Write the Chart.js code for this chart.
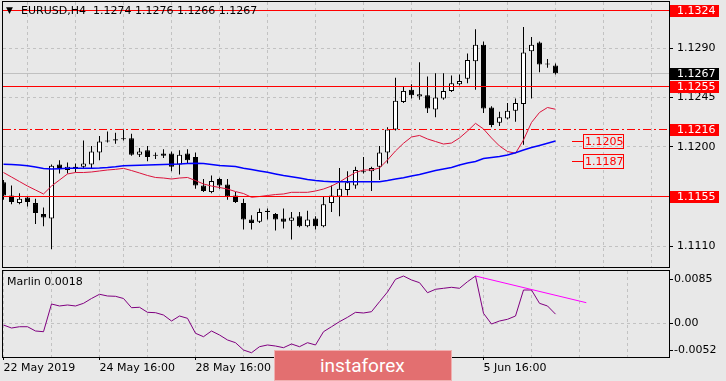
<!DOCTYPE html>
<html lang="en">
<head>
<meta charset="UTF-8" />
<title>EURUSD H4</title>
<script src="https://cdn.jsdelivr.net/npm/chart.js@4.4.1/dist/chart.umd.min.js"></script>
<style>
  html, body { margin: 0; padding: 0; background: #e8e8e8; }
  body { width: 726px; height: 381px; position: relative; overflow: hidden; }
  #mainChart { position: absolute; left: 0; top: 0; }
  #marlinChart { position: absolute; left: 0; top: 268px; }
  #wm {
    position: absolute; left: 274px; top: 350px; width: 178px; height: 31px;
    box-sizing: border-box; border: 1px solid #f0b0b0; background: #e36f70;
    color: #fff; font: 19px Roboto, sans-serif; line-height: 29px; padding-left: 45px;
  }
</style>
</head>
<body>
<canvas id="mainChart" width="726" height="268"></canvas>
<canvas id="marlinChart" width="726" height="113"></canvas>
<div id="wm">instaforex</div>

<script>
// H4 bars, oldest first
const opens = [1.1168,1.1156,1.1149,1.1154,1.1149,1.1139,1.1135,1.1184,1.1179,1.1182,
  1.1182,1.1184,1.1195,1.1206,1.1207,1.1208,1.1208,1.1193,1.1197,1.1193,
  1.1194,1.1194,1.1184,1.1194,1.1191,1.1165,1.1159,1.1171,1.1166,1.1156,
  1.1149,1.1134,1.1132,1.1142,1.1139,1.1135,1.1133,1.1137,1.1128,1.1135,
  1.1128,1.1149,1.1155,1.1161,1.1165,1.1178,1.1178,1.1182,1.1195,1.1216,
  1.1241,1.1252,1.1246,1.1247,1.1234,1.1244,1.1251,1.1257,1.1262,1.1278,
  1.1293,1.1236,1.1222,1.1226,1.1233,1.1239,1.1287,1.1295,1.1276,1.1274];
const highs = [1.1170,1.1165,1.1158,1.1155,1.1153,1.1145,1.1184,1.1188,1.1186,1.1185,
  1.1206,1.1201,1.1210,1.1214,1.1213,1.1216,1.1212,1.1199,1.1201,1.1195,
  1.1198,1.1196,1.1197,1.1198,1.1195,1.1171,1.1174,1.1172,1.1171,1.1159,
  1.1153,1.1138,1.1144,1.1144,1.1140,1.1144,1.1141,1.1141,1.1142,1.1137,
  1.1155,1.1165,1.1181,1.1178,1.1182,1.1191,1.1182,1.1201,1.1218,1.1263,
  1.1255,1.1257,1.1277,1.1264,1.1267,1.1267,1.1265,1.1266,1.1285,1.1307,
  1.1296,1.1237,1.1232,1.1240,1.1244,1.1309,1.1300,1.1296,1.1280,1.1276];
const lows = [1.1152,1.1148,1.1148,1.1146,1.1130,1.1128,1.1107,1.1176,1.1176,1.1177,
  1.1181,1.1180,1.1188,1.1204,1.1203,1.1206,1.1192,1.1191,1.1187,1.1189,
  1.1190,1.1178,1.1175,1.1185,1.1162,1.1159,1.1158,1.1162,1.1152,1.1149,
  1.1125,1.1125,1.1131,1.1134,1.1124,1.1126,1.1116,1.1127,1.1127,1.1125,
  1.1127,1.1141,1.1137,1.1156,1.1162,1.1176,1.1160,1.1170,1.1185,1.1215,
  1.1240,1.1244,1.1243,1.1231,1.1227,1.1243,1.1250,1.1256,1.1258,1.1252,
  1.1231,1.1218,1.1219,1.1225,1.1223,1.1202,1.1244,1.1268,1.1272,1.1266];
const closes = [1.1156,1.1150,1.1153,1.1150,1.1140,1.1136,1.1183,1.1181,1.1182,1.1181,
  1.1185,1.1196,1.1205,1.1205,1.1206,1.1207,1.1193,1.1196,1.1191,1.1192,
  1.1192,1.1182,1.1193,1.1188,1.1165,1.1160,1.1169,1.1165,1.1155,1.1150,
  1.1134,1.1131,1.1141,1.1141,1.1134,1.1132,1.1136,1.1128,1.1134,1.1128,
  1.1148,1.1156,1.1162,1.1168,1.1179,1.1177,1.1181,1.1195,1.1216,1.1242,
  1.1251,1.1247,1.1248,1.1235,1.1245,1.1251,1.1258,1.1260,1.1279,1.1293,
  1.1235,1.1220,1.1227,1.1233,1.1240,1.1286,1.1293,1.1275,1.1275,1.1267];

// moving averages (fast = crimson, slow = blue)
const maFast = [1.11768,1.11727,1.11686,1.11645,1.11609,1.11573,1.11645,1.11700,1.11755,1.11768,
  1.11768,1.11773,1.11782,1.11791,1.11797,1.11806,1.11786,1.11764,1.11741,1.11723,
  1.11718,1.11709,1.11718,1.11723,1.11695,1.11664,1.11645,1.11632,1.11618,1.11595,
  1.11577,1.11543,1.11550,1.11559,1.11568,1.11573,1.11588,1.11588,1.11588,1.11600,
  1.11618,1.11645,1.11682,1.11727,1.11768,1.11791,1.11791,1.11809,1.11882,1.11964,
  1.12034,1.12091,1.12105,1.12073,1.12050,1.12027,1.12036,1.12082,1.12145,1.12215,
  1.12164,1.12082,1.12009,1.11959,1.11943,1.12064,1.12223,1.12314,1.12359,1.12343];
const maSlow = [1.11843,1.11841,1.11836,1.11830,1.11818,1.11805,1.11800,1.11803,1.11806,1.11806,
  1.11806,1.11806,1.11809,1.11814,1.11821,1.11830,1.11832,1.11834,1.11836,1.11838,
  1.11841,1.11843,1.11845,1.11850,1.11852,1.11850,1.11841,1.11832,1.11827,1.11823,
  1.11806,1.11795,1.11782,1.11770,1.11755,1.11741,1.11730,1.11718,1.11705,1.11695,
  1.11688,1.11685,1.11685,1.11685,1.11685,1.11685,1.11685,1.11685,1.11695,1.11709,
  1.11721,1.11736,1.11750,1.11768,1.11786,1.11800,1.11814,1.11836,1.11855,1.11868,
  1.11895,1.11905,1.11914,1.11927,1.11948,1.11973,1.11995,1.12014,1.12034,1.12055];

// Marlin oscillator
const marlin = [-0.00029,-0.00087,-0.00062,-0.00062,-0.00144,-0.00158,0.00375,0.00337,0.00356,0.00337,
  0.00388,0.00481,0.00562,0.00529,0.00523,0.00481,0.00304,0.00312,0.00215,0.00208,
  0.00163,0.00048,0.00144,0.00100,-0.00188,-0.00254,-0.00144,-0.00221,-0.00317,-0.00369,
  -0.00510,-0.00562,-0.00446,-0.00413,-0.00433,-0.00465,-0.00394,-0.00446,-0.00369,-0.00413,
  -0.00158,-0.00062,0.00035,0.00119,0.00215,0.00202,0.00227,0.00419,0.00606,0.00850,
  0.00913,0.00837,0.00785,0.00592,0.00658,0.00677,0.00696,0.00677,0.00804,0.00913,
  0.00196,-0.00010,0.00048,0.00081,0.00144,0.00644,0.00644,0.00388,0.00337,0.00180];
const trendX = [59, 72.85];
const trendY = [0.00913, 0.0040];

// axis stuff
const labelBars = [0, 12, 24, 36, 48, 60];
const labelTexts = ["22 May 2019", "24 May 16:00", "28 May 16:00", "30 May 16:00", "3 Jun 16:00", "5 Jun 16:00"];
const gridPrices = [1.1110, 1.1155, 1.1200, 1.1245, 1.1290];
const marlinTicks = [0.0085, 0, -0.0052];
const redLevels = [1.1324, 1.1255, 1.1155];
const dashLevels = [1.1216];
const boxLevels = [1.1324, 1.1255, 1.1216, 1.1155];
const bidPrice = 1.1267;
const noteLevels = [1.1205, 1.1187];
const noteBar = 71;

const header = "EURUSD,H4  1.1274 1.1276 1.1266 1.1267";
const marlinTitle = "Marlin 0.0018";

const BG = "#e8e8e8";
const GRID = "#c2c2c2";
const FONT = "'DejaVu Sans', sans-serif";

Chart.defaults.font.family = FONT;
Chart.defaults.font.size = 11;
Chart.defaults.color = "#000";
Chart.defaults.animation = false;

const X_MIN = -0.0625, X_MAX = 83.1875; // 8px per bar
const gridBars = [];
for (let b = 0; b <= 78; b += 6) gridBars.push(b);

const idx = opens.map((_, i) => i);
const wickData = idx.map(i => ({ x: i, y: [lows[i], highs[i]] }));
const bodyData = idx.map(i => ({ x: i, y: [opens[i], closes[i]] }));
const bodyFill = idx.map(i => (closes[i] >= opens[i] ? "#ffffff" : "#000000"));

const rowOf = (scale, v) => Math.floor(scale.getPixelForValue(v));

// no auto padding from labels, keep plot area where it should be
const noPad = s => { s.paddingTop = 0; s.paddingBottom = 0; s.paddingLeft = 0; s.paddingRight = 0; };

const framePlugin = {
  id: "frame",
  beforeDraw(chart) {
    const ctx = chart.ctx;
    ctx.save();
    ctx.fillStyle = BG;
    ctx.fillRect(0, 0, chart.width, chart.height);
    ctx.restore();
  },
  afterDraw(chart) {
    const a = chart.chartArea, ctx = chart.ctx;
    ctx.save();
    ctx.fillStyle = "#000";
    ctx.fillRect(a.left - 1, a.top - 1, a.right - a.left + 2, 1);
    ctx.fillRect(a.left - 1, a.bottom, a.right - a.left + 2, 1);
    ctx.fillRect(a.left - 1, a.top - 1, 1, a.bottom - a.top + 2);
    ctx.fillRect(a.right, a.top - 1, 1, a.bottom - a.top + 2);
    ctx.restore();
  }
};

const levelsPlugin = {
  id: "levels",
  beforeDatasetsDraw(chart) {
    const a = chart.chartArea, ctx = chart.ctx, y = chart.scales.y;
    ctx.save();
    ctx.fillStyle = "#c0c0c0";
    ctx.fillRect(a.left, rowOf(y, bidPrice), a.right - a.left, 1);
    ctx.restore();
  },
  afterDatasetsDraw(chart) {
    const a = chart.chartArea, ctx = chart.ctx, y = chart.scales.y, x = chart.scales.x;
    ctx.save();
    ctx.fillStyle = "#ff0000";
    redLevels.forEach(v => ctx.fillRect(a.left, rowOf(y, v), a.right - a.left, 1));
    // dash-dot pattern 8-3-2-3
    dashLevels.forEach(v => {
      const py = rowOf(y, v);
      for (let px = a.left; px < a.right; px += 16) {
        ctx.fillRect(px, py, Math.min(8, a.right - px), 1);
        if (px + 11 < a.right) ctx.fillRect(px + 11, py, 2, 1);
      }
    });

    // price notes next to the MA ends
    const nx = Math.round(x.getPixelForValue(noteBar));
    ctx.font = "11px " + FONT;
    ctx.textBaseline = "middle";
    ctx.strokeStyle = "#ff0000";
    ctx.lineWidth = 1;
    noteLevels.forEach(v => {
      const py = rowOf(y, v);
      ctx.fillRect(nx, py, 11, 1);
      ctx.strokeRect(nx + 11.5, py - 6.5, 40, 14);
      ctx.fillText(v.toFixed(4), nx + 13, py + 1);
    });
    ctx.restore();
  },
  afterDraw(chart) {
    const a = chart.chartArea, ctx = chart.ctx, y = chart.scales.y;
    ctx.save();
    ctx.font = "11px " + FONT;
    ctx.textBaseline = "middle";
    const box = (v, color) => {
      const py = rowOf(y, v);
      ctx.fillStyle = color;
      ctx.fillRect(a.right + 1, py - 5, 49, 12);
      ctx.fillStyle = "#ffffff";
      ctx.fillText(v.toFixed(4), a.right + 8, py + 1);
    };
    boxLevels.forEach(v => box(v, "#ff0000"));
    box(bidPrice, "#000000");

    ctx.fillStyle = "#000";
    ctx.font = "9px " + FONT;
    ctx.fillText("\u25BC", a.left + 3, 11);
    ctx.font = "11px " + FONT;
    ctx.fillText(header, a.left + 18, 11);
    ctx.restore();
  }
};

const marlinPlugin = {
  id: "marlinTitle",
  afterDraw(chart) {
    const a = chart.chartArea, ctx = chart.ctx;
    ctx.save();
    ctx.font = "11px " + FONT;
    ctx.textBaseline = "middle";
    ctx.fillStyle = "#000";
    ctx.fillText(marlinTitle, a.left + 4, a.top + 11);
    ctx.restore();
  }
};

new Chart(document.getElementById("mainChart"), {
  type: "bar",
  data: {
    datasets: [
      { type: "line", data: idx.map(i => ({ x: i, y: maSlow[i] })), borderColor: "#0000ff",
        borderWidth: 1.5, pointRadius: 0, tension: 0, fill: false, order: 0 },
      { type: "line", data: idx.map(i => ({ x: i, y: maFast[i] })), borderColor: "#dc143c",
        borderWidth: 1, pointRadius: 0, tension: 0, fill: false, order: 0 },
      { data: bodyData, backgroundColor: bodyFill, borderColor: "#000", borderWidth: 1,
        borderSkipped: false, barThickness: 5, minBarLength: 1, inflateAmount: 0,
        grouped: false, order: 1 },
      { data: wickData, backgroundColor: "#000", borderWidth: 0, barThickness: 1,
        inflateAmount: 0, grouped: false, order: 2 }
    ]
  },
  options: {
    responsive: false,
    devicePixelRatio: 1,
    layout: { padding: { left: 3, top: 2, right: 0, bottom: 1 }, autoPadding: false },
    plugins: { legend: { display: false }, tooltip: { enabled: false } },
    scales: {
      x: {
        type: "linear", min: X_MIN, max: X_MAX, offset: false,
        afterBuildTicks: s => { s.ticks = gridBars.map(v => ({ value: v })); },
        afterFit: s => { s.height = 0; noPad(s); },
        ticks: { display: false },
        grid: { color: GRID, drawTicks: false },
        border: { display: false, dash: [3, 3] }
      },
      y: {
        position: "right",
        min: 1.1290 + 46 / 11000 - 265 / 11000,
        max: 1.1290 + 46 / 11000,
        afterBuildTicks: s => { s.ticks = gridPrices.map(v => ({ value: v })); },
        afterFit: s => { s.width = 57; noPad(s); },
        ticks: { callback: v => v.toFixed(4), padding: 4, autoSkip: false },
        grid: { color: GRID, tickColor: "#000", tickLength: 4, tickBorderDash: [] },
        border: { display: false, dash: [3, 3] }
      }
    }
  },
  plugins: [framePlugin, levelsPlugin]
});

new Chart(document.getElementById("marlinChart"), {
  type: "line",
  data: {
    datasets: [
      { data: trendX.map((v, i) => ({ x: v, y: trendY[i] })), borderColor: "#ff00ff",
        borderWidth: 1, pointRadius: 0, tension: 0 },
      { data: idx.map(i => ({ x: i, y: marlin[i] })), borderColor: "#800080",
        borderWidth: 1, pointRadius: 0, tension: 0 }
    ]
  },
  options: {
    responsive: false,
    devicePixelRatio: 1,
    layout: { padding: { left: 3, top: 3, right: 0, bottom: 0 }, autoPadding: false },
    plugins: { legend: { display: false }, tooltip: { enabled: false } },
    scales: {
      x: {
        type: "linear", min: X_MIN, max: X_MAX, offset: false,
        afterBuildTicks: s => { s.ticks = gridBars.map(v => ({ value: v })); },
        afterFit: s => { s.height = 24; noPad(s); },
        ticks: {
          autoSkip: false, maxRotation: 0, align: "start", padding: 2,
          callback: v => { const k = labelBars.indexOf(v); return k >= 0 ? labelTexts[k] : ""; }
        },
        grid: {
          color: GRID, tickLength: 3, tickBorderDash: [],
          tickColor: c => (labelBars.indexOf(c.tick && c.tick.value) >= 0 ? "#000" : "rgba(0,0,0,0)")
        },
        border: { display: false, dash: [3, 3] }
      },
      y: {
        position: "right",
        min: -(89 - 55.5) / 5200,
        max: (55.5 - 3) / 5200,
        afterBuildTicks: s => { s.ticks = marlinTicks.map(v => ({ value: v })); },
        afterFit: s => { s.width = 57; noPad(s); },
        ticks: { callback: v => (v === 0 ? "0.00" : v.toFixed(4)), padding: 1, autoSkip: false },
        grid: {
          color: c => (c.tick && c.tick.value === 0 ? GRID : "rgba(0,0,0,0)"),
          tickColor: "#000", tickLength: 4, tickBorderDash: []
        },
        border: { display: false, dash: [3, 3] }
      }
    }
  },
  plugins: [framePlugin, marlinPlugin]
});
</script>
</body>
</html>
